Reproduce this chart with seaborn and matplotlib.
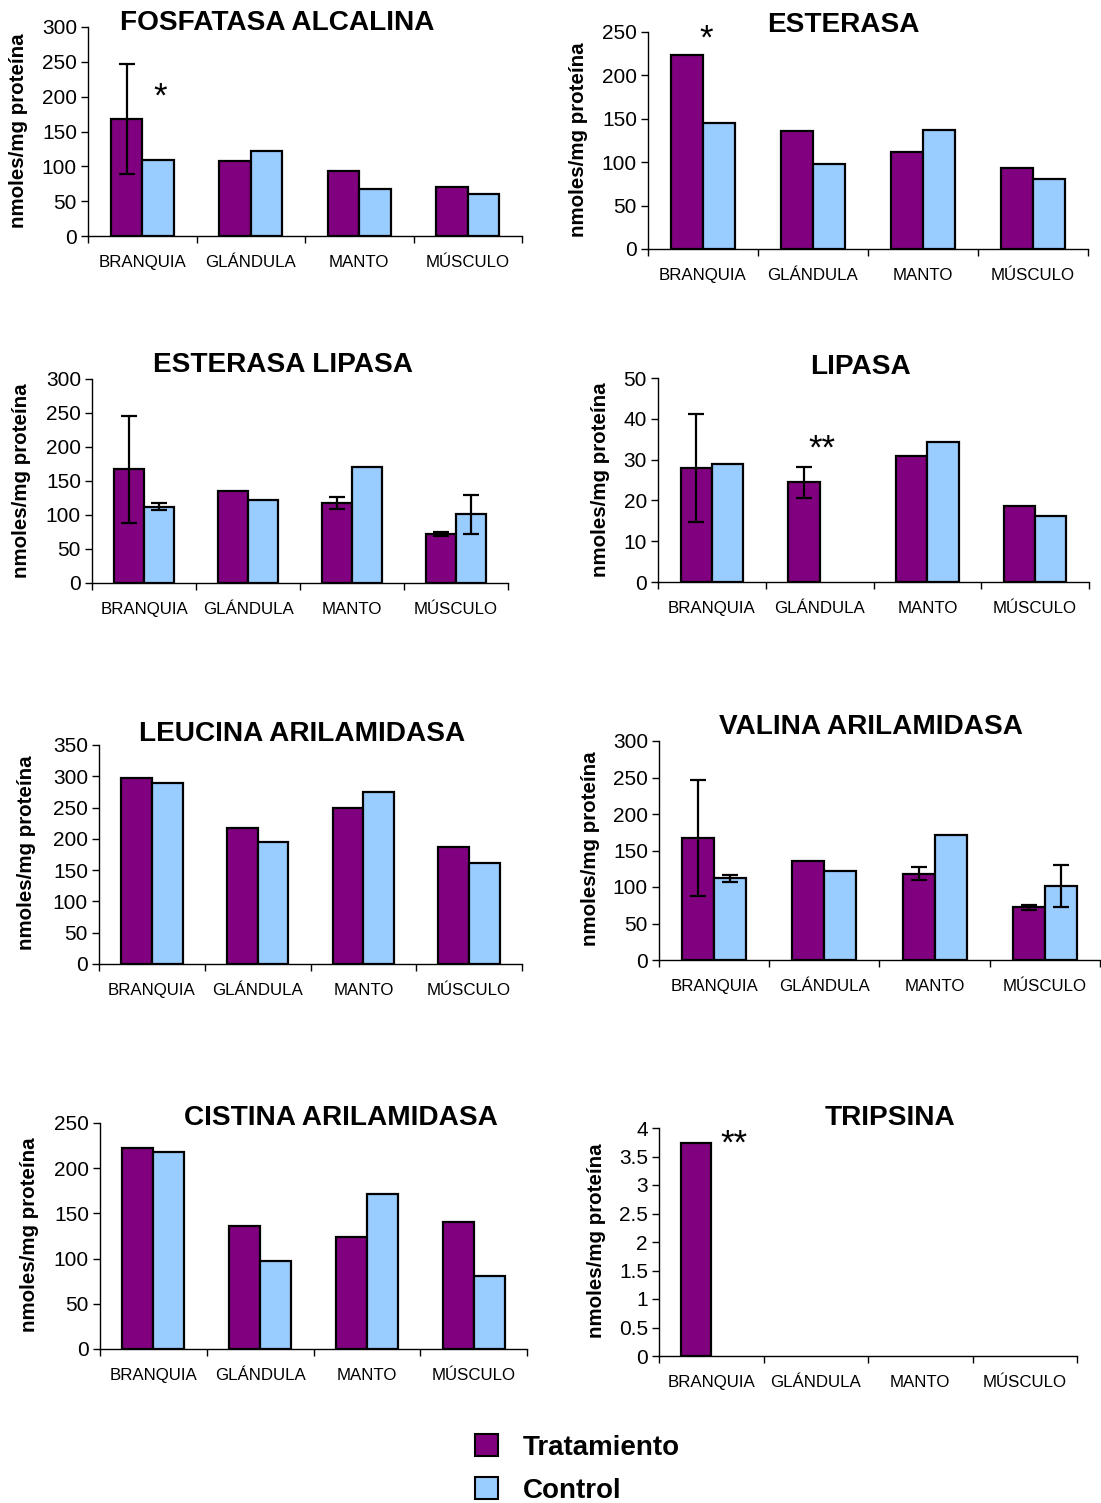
import matplotlib
matplotlib.use("Agg")
import numpy as np
import pandas as pd
import matplotlib.pyplot as plt
import seaborn as sns
from matplotlib.patches import Patch

# categorias y series
tejidos = ["BRANQUIA", "GLÁNDULA", "MANTO", "MÚSCULO"]
grupos = ["Tratamiento", "Control"]

fosfatasa_trat = [168, 108, 94, 70]
fosfatasa_ctrl = [109, 122, 68, 61]
fosfatasa_err_trat = [79, 0, 0, 0]
fosfatasa_err_ctrl = [0, 0, 0, 0]

esterasa_trat = [223, 136, 112, 93]
esterasa_ctrl = [145, 98, 137, 81]

est_lipasa_trat = [167, 136, 118, 72]
est_lipasa_ctrl = [112, 122, 171, 101]
est_lipasa_err_trat = [79, 0, 9, 3.5]
est_lipasa_err_ctrl = [5, 0, 0, 29]

lipasa_trat = [27.9, 24.4, 31.0, 18.7]
lipasa_ctrl = [29.0, 0, 34.2, 16.1]
lipasa_err_trat = [13.2, 3.9, 0, 0]
lipasa_err_ctrl = [0, 0, 0, 0]

leucina_trat = [297, 217, 249, 187]
leucina_ctrl = [290, 195, 275, 162]

valina_trat = [167, 136, 118, 72]
valina_ctrl = [112, 122, 171, 101]
valina_err_trat = [79, 0, 9, 3.5]
valina_err_ctrl = [5, 0, 0, 29]

cistina_trat = [222, 136, 124, 140]
cistina_ctrl = [218, 97, 171, 81]

tripsina_trat = [3.73, 0, 0, 0]
tripsina_ctrl = [0, 0, 0, 0]

colores = {"Tratamiento": "#800080", "Control": "#99CCFF"}

W, H = 1101, 1503
sns.set_style("ticks")
plt.rcParams["font.family"] = ["Liberation Sans", "DejaVu Sans"]
for k in ["text.color", "axes.labelcolor", "xtick.color", "ytick.color"]:
    plt.rcParams[k] = "black"

fig = plt.figure(figsize=(W / 100, H / 100), dpi=100)


def px_axes(x0, x1, ytop, ybot):
    return fig.add_axes([x0 / W, 1 - ybot / H, (x1 - x0) / W, (ybot - ytop) / H])


def panel(box, title, title_xy, ylab_xy, trat, ctrl, ymax, ystep,
          err_trat=None, err_ctrl=None, stars=None):
    ax = px_axes(*box)
    df = pd.DataFrame({
        "tejido": tejidos * 2,
        "grupo": ["Tratamiento"] * 4 + ["Control"] * 4,
        "valor": list(trat) + list(ctrl),
    })
    sns.barplot(data=df, x="tejido", y="valor", hue="grupo", order=tejidos,
                hue_order=grupos, palette=colores, width=0.58, saturation=1,
                edgecolor="black", linewidth=1.6, legend=False, ax=ax)

    bars = sorted(ax.patches, key=lambda p: p.get_x())
    for p in bars:
        if p.get_height() == 0:
            p.set_linewidth(0.6)

    # barras de error desde las posiciones de las barras de seaborn
    if err_trat is not None:
        errs = []
        for t, c in zip(err_trat, err_ctrl):
            errs += [t, c]
        for p, e in zip(bars, errs):
            if e > 0:
                ax.errorbar(p.get_x() + p.get_width() / 2, p.get_height(), yerr=e,
                            fmt="none", ecolor="black", elinewidth=1.6,
                            capsize=6, capthick=1.6, zorder=5)

    ax.set_xlim(-0.5, 3.5)
    ax.set_ylim(0, ymax)
    yt = np.arange(0, ymax + ystep / 2, ystep)
    ax.set_yticks(yt)
    ax.set_yticklabels([f"{v:g}" for v in yt], fontsize=15)
    ax.set_xticks(range(4))
    ax.set_xticklabels(tejidos, fontsize=12.2)
    ax.set_xticks(np.arange(-0.5, 4, 1), minor=True)
    ax.tick_params(axis="x", which="major", length=0, pad=13.5)
    ax.tick_params(axis="x", which="minor", length=5, width=1, color="black")
    ax.tick_params(axis="y", length=5, width=1, color="black", pad=3)
    ax.set_xlabel("")
    ax.set_ylabel("")
    sns.despine(ax=ax)
    for s in ["left", "bottom"]:
        ax.spines[s].set_color("black")
        ax.spines[s].set_linewidth(1.0)

    if stars:
        for sx, sy, txt in stars:
            ax.annotate(txt, xy=(sx, sy), xytext=(1.5, -11), textcoords="offset points",
                        ha="center", va="baseline", fontsize=25, annotation_clip=False)

    fig.text(title_xy[0] / W, 1 - (title_xy[1] + 10) / H, title, ha="center",
             va="baseline", fontsize=20.2, fontweight="bold")
    fig.text(ylab_xy[0] / W, 1 - ylab_xy[1] / H, "nmoles/mg proteína", rotation=90,
             ha="center", va="center", fontsize=14.8, fontweight="bold")
    return ax


panel((88, 522, 27, 236), "FOSFATASA ALCALINA", (277, 20), (19, 131),
      fosfatasa_trat, fosfatasa_ctrl, 300, 50, fosfatasa_err_trat, fosfatasa_err_ctrl,
      stars=[(0.145, 207, "*")])
panel((648, 1088, 32, 249), "ESTERASA", (843, 22), (578, 140),
      esterasa_trat, esterasa_ctrl, 250, 50, stars=[(0.01, 249, "*")])
panel((92, 508, 379, 583), "ESTERASA LIPASA", (283, 362), (22, 481),
      est_lipasa_trat, est_lipasa_ctrl, 300, 50, est_lipasa_err_trat, est_lipasa_err_ctrl)
panel((658, 1089, 378, 582), "LIPASA", (860, 364), (600, 480),
      lipasa_trat, lipasa_ctrl, 50, 10, lipasa_err_trat, lipasa_err_ctrl,
      stars=[(1.0, 34, "**")])
panel((99, 522, 745, 964), "LEUCINA ARILAMIDASA", (302, 731), (27, 853),
      leucina_trat, leucina_ctrl, 350, 50)
panel((659, 1100, 741, 960), "VALINA ARILAMIDASA", (871, 724), (590, 849),
      valina_trat, valina_ctrl, 300, 50, valina_err_trat, valina_err_ctrl)
panel((100, 527, 1123, 1349), "CISTINA ARILAMIDASA", (341, 1115), (30, 1235),
      cistina_trat, cistina_ctrl, 250, 50)
panel((659, 1077, 1128, 1356), "TRIPSINA", (890, 1115), (597, 1241),
      tripsina_trat, tripsina_ctrl, 4, 0.5, stars=[(0.2, 3.81, "**")])

handles = [Patch(facecolor=colores[g], edgecolor="black", linewidth=1.5, label=g)
           for g in grupos]
fig.legend(handles=handles, loc="upper left", bbox_to_anchor=(475 / W, 1 - 1434 / H),
           frameon=False, borderpad=0, borderaxespad=0, handlelength=0.83,
           handleheight=0.83, handletextpad=0.9, labelspacing=0.6,
           prop={"size": 20, "weight": "bold"})

fig.savefig("out.png", dpi=100)
